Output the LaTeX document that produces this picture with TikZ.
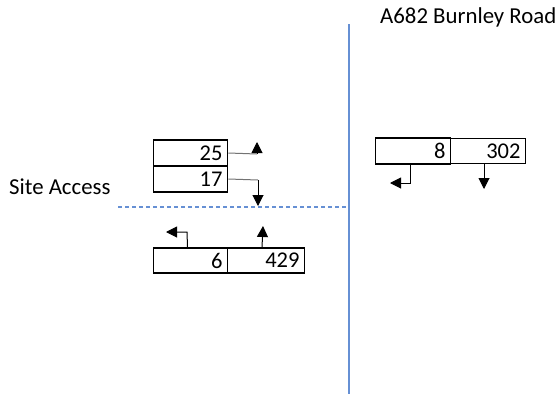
\documentclass[tikz,border=0pt]{standalone}
\usepackage{fontspec}
\setmainfont{Carlito}
\usetikzlibrary{arrows.meta,positioning}

\definecolor{roadblue}{HTML}{6690D4}

\tikzset{
  cell/.style={draw, line width=1.6pt, minimum height=26pt, text width=64pt,
    inner sep=5pt, align=right, font=\fontsize{22.5}{24}\selectfont},
  flow/.style={line width=1pt, -{Triangle[width=11pt,length=11pt]}},
  stub/.style={line width=1pt, black!55},
  label/.style={font=\fontsize{22.8}{24}\selectfont, inner sep=0pt}
}

\begin{document}
\begin{tikzpicture}[x=1pt, y=-1pt]
  \useasboundingbox (0,0) rectangle (557,394);

  % road edge and site access centre line
  \coordinate (roadtop) at (349,24);
  \coordinate (roadbot) at (349,394);
  \coordinate (accw) at (118,207);
  \draw[roadblue, line width=1.1pt] (roadtop) -- (roadbot);
  \draw[roadblue, line width=1.1pt, dash pattern=on 4pt off 3pt] (accw) -- (accw -| roadtop);

  \node[label, anchor=west] (road) at (380,17) {A682 Burnley Road};
  \node[label, anchor=west] (site) at (9,187) {Site Access};

  % site access flows
  \node[cell] (c25) at (190.5,153) {25};
  \node[cell, below=-1.6pt of c25] (c17) {17};

  \coordinate (k25) at (257,154);
  \coordinate (t25) at (257,142);
  \draw[stub] (c25.east) -- (k25);
  \draw[flow] (k25) -- (t25);

  \coordinate (k17) at (258,180);
  \coordinate (t17) at (258,206);
  \draw[stub] (c17.east) -- (k17);
  \draw[flow] (k17) -- (t17);

  % Burnley Road, northern side
  \node[cell, minimum height=22pt, text width=65pt] (c8) at (413,151) {8};
  \node[cell, minimum height=22pt, text width=65pt, right=-1.6pt of c8] (c302) {302};

  \coordinate (k8) at (410,183);
  \coordinate (t8) at (390,183);
  \draw[flow] ([xshift=-3pt]c8.south) -- (k8) -- (t8);

  \coordinate (t302) at (484,189);
  \draw[flow] ([xshift=-4pt]c302.south) -- (t302);

  % Burnley Road, southern side
  \node[cell, minimum height=25pt] (c6) at (190.5,260.5) {6};
  \node[cell, minimum height=25pt, text width=67pt, right=-1.6pt of c6] (c429) {429};

  \coordinate (k6) at (187,232);
  \coordinate (t6) at (166,232);
  \draw[flow] ([xshift=-3pt]c6.north) -- (k6) -- (t6);

  \coordinate (t429) at (263,226);
  \draw[flow] ([xshift=-4pt]c429.north) -- (t429);
\end{tikzpicture}
\end{document}
